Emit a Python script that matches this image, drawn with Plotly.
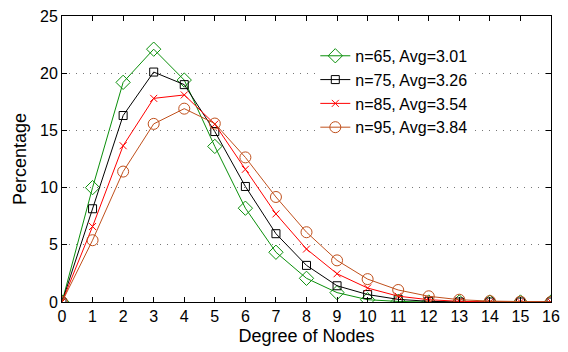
import plotly.graph_objects as go

degrees = list(range(17))
n65 = [0, 10.0, 19.2, 22.1, 19.4, 13.6, 8.2, 4.35, 2.07, 0.82, 0.2, 0.05, 0, 0, 0, 0, 0]
n75 = [0, 8.15, 16.3, 20.1, 19.0, 14.9, 10.1, 5.97, 3.2, 1.42, 0.65, 0.23, 0.06, 0, 0, 0, 0]
n85 = [0, 6.6, 13.66, 17.8, 18.1, 15.55, 11.6, 7.7, 4.63, 2.47, 1.22, 0.51, 0.2, 0.06, 0, 0, 0]
n95 = [0, 5.4, 11.4, 15.57, 16.9, 15.6, 12.64, 9.18, 6.1, 3.64, 2.0, 1.05, 0.5, 0.2, 0.08, 0.03, 0]

labels = ["n=65, Avg=3.01", "n=75, Avg=3.26", "n=85, Avg=3.54", "n=95, Avg=3.84"]
series = [n65, n75, n85, n95]
colors = ["#0a8f0a", "#000000", "#ff0000", "#c0501c"]
symbols = ["diamond-open", "square-open", "x-thin-open", "circle-open"]
sizes = [11, 8, 7, 11]

fig = go.Figure()
for lab, ys, c, s, sz in zip(labels, series, colors, symbols, sizes):
    fig.add_trace(go.Scatter(
        x=degrees, y=ys, name=lab, mode="lines+markers",
        line=dict(color=c, width=1),
        marker=dict(symbol=s, size=sz, color=c, line=dict(color=c, width=1)),
    ))

font = "Liberation Sans, Arial, sans-serif"
fig.update_layout(
    width=568, height=352,
    margin=dict(l=62, r=15, t=8, b=50),
    paper_bgcolor="white", plot_bgcolor="white",
    font=dict(family=font, size=16, color="black"),
    showlegend=True,
    legend=dict(x=0.518, y=0.92, xanchor="left", yanchor="top",
                bgcolor="white", font=dict(size=16, family=font),
                tracegroupgap=0, borderwidth=0),
    xaxis=dict(range=[0, 16], tickmode="linear", tick0=0, dtick=1,
               showline=True, linecolor="black", linewidth=1, mirror="ticks",
               ticks="inside", ticklen=5, tickcolor="black", showgrid=False,
               zeroline=False, tickfont=dict(size=16),
               title=dict(text="Degree of Nodes", font=dict(size=18), standoff=5)),
    yaxis=dict(range=[0, 25], tickmode="linear", tick0=0, dtick=5,
               showline=True, linecolor="black", linewidth=1, mirror="ticks",
               ticks="inside", ticklen=5, tickcolor="black",
               showgrid=True, gridcolor="#777777", griddash="1px,6px", gridwidth=1,
               zeroline=False, tickfont=dict(size=16),
               title=dict(text="Percentage", font=dict(size=18), standoff=8)),
)
fig.write_html("out.html")
